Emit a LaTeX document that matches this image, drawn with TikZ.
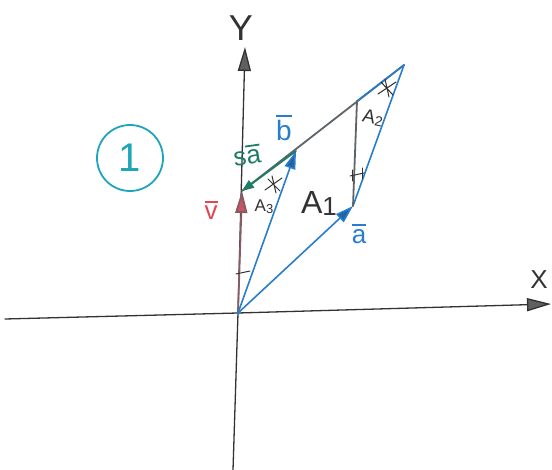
\documentclass[tikz,border=0pt]{standalone}
\usepackage{fontspec}
\setmainfont{Liberation Sans}
\usetikzlibrary{arrows.meta}
\definecolor{axisgray}{RGB}{50,50,50}
\definecolor{vecblue}{RGB}{40,125,205}
\definecolor{vecred}{RGB}{225,70,85}
\definecolor{vecgreen}{RGB}{30,125,100}
\definecolor{tealone}{RGB}{30,165,185}
\definecolor{linegray}{RGB}{95,100,105}
\newcommand\bartxt[1]{\setbox0\hbox{#1}\vbox{\offinterlineskip\hbox to \wd0{\hss\rule{1.0\wd0}{1.8pt}\hss}\kern3pt\box0}}
\newcommand\subdig[2]{#1\raisebox{-2pt}{\fontsize{#2}{#2}\selectfont 1}}
\begin{document}
\begin{tikzpicture}[x=1pt,y=-1pt,
  axisline/.style={draw=axisgray, line width=1.3pt, line cap=round,
    -{Triangle[length=24pt,width=13pt,fill=gray!75!black]}},
  bluevec/.style={draw=vecblue, line width=1.6pt, line cap=round,
    -{Triangle[length=18pt,width=11pt,fill=vecblue!80!black]}},
  blueline/.style={draw=vecblue, line width=1.6pt, line cap=round},
  grayline/.style={draw=linegray, line width=1.8pt, line cap=round},
  redvec/.style={draw=linegray!70!vecred, line width=1.8pt, line cap=round,
    -{Triangle[length=22pt,width=12pt,fill=vecred!70!gray]}},
  greenvec/.style={draw=vecgreen, line width=1.8pt, line cap=round,
    -{Triangle[length=12pt,width=9pt,fill=vecgreen]}},
  tickmark/.style={draw=axisgray, line width=1pt, line cap=round},
  lbl/.style={inner sep=0pt},
]
\useasboundingbox (0,0) rectangle (552,470);

% points
\coordinate (O) at (238,313);
\coordinate (V) at (242,191);
\coordinate (B) at (296,151);
\coordinate (A) at (353,206);
\coordinate (T) at (404,65);
\coordinate (M) at (357,101);
\coordinate (Yt) at (245,47);
\coordinate (Yb) at (233,470);
\coordinate (Xl) at (5,319);
\coordinate (Xt) at (551,304);

% axes
\draw[axisline] (Xl) -- (O) -- (Xt);
\draw[axisline] (Yb) -- (O) -- (Yt);

% parallelogram lines
\draw[grayline] (V) -- (T);
\draw[blueline] (M) -- (T);
\draw[blueline] (A) -- (T);
\draw[grayline] (M) -- (A);

% vectors
\draw[redvec] (O) -- (V);
\draw[bluevec] (O) -- (B);
\draw[bluevec] (O) -- (A);
\draw[greenvec] (B) -- (V);

% tick marks
\draw[tickmark] (236,274) -- (250,271);
\draw[tickmark] (350,176) -- (364,173);
\draw[tickmark] (352,170) -- (352,181) (362,168) -- (362,179);
% star marks
\draw[tickmark] (265,190) -- (282,178) (268,179) -- (280,191) (272,176) -- (276,193);
\draw[tickmark] (378,94) -- (396,82) (381,82) -- (393,95) (385,79) -- (389,97);

% labels
\node[lbl, text=axisgray, font=\fontsize{36}{36}\selectfont] (ylab) at (241,28) {Y};
\node[lbl, text=axisgray, font=\fontsize{26}{26}\selectfont] (xlab) at (539,280) {X};
\node[lbl, text=axisgray, font=\fontsize{32}{32}\selectfont] (a1) at (319,203) {\subdig{A}{26}};
\node[lbl, text=axisgray, font=\fontsize{19}{19}\selectfont, rotate=-12] (a2) at (373,118) {A\raisebox{-1pt}{\fontsize{14}{14}\selectfont 2}};
\node[lbl, text=axisgray, font=\fontsize{17}{17}\selectfont] (a3) at (264,207) {A\raisebox{-2pt}{\fontsize{13}{13}\selectfont 3}};
\node[lbl, text=vecblue, font=\fontsize{28}{28}\selectfont] (blab) at (284,128) {\bartxt{b}};
\node[lbl, text=vecblue, font=\fontsize{26}{26}\selectfont] (alab) at (359,234) {\bartxt{a}};
\node[lbl, text=vecgreen, font=\fontsize{26}{26}\selectfont, rotate=8] (salab) at (247,155) {s\bartxt{a}};
\node[lbl, text=vecred, font=\fontsize{26}{26}\selectfont] (vlab) at (211,210) {\bartxt{v}};

% circled one
\node[draw=tealone, line width=1.8pt, circle, minimum size=66pt, inner sep=0pt,
  text=tealone, font=\fontsize{40}{40}\selectfont] (one) at (130,158) {1};
\end{tikzpicture}
\end{document}
